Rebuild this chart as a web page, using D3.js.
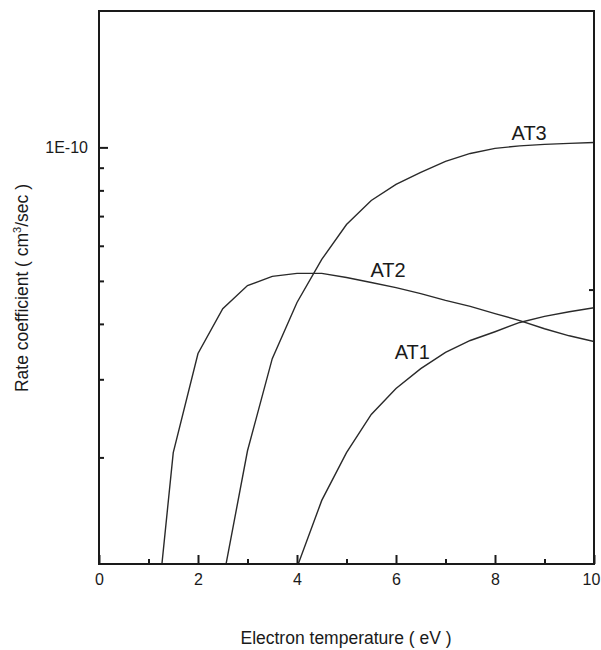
<!DOCTYPE html>
<html lang="en">
<head>
    <meta charset="UTF-8">
    <title>Rate coefficient vs electron temperature</title>
    <style>
        body {
            margin: 0;
            background: #fff;
        }
        svg text {
            font-family: "Liberation Sans", Arial, sans-serif;
            fill: #1a1a1a;
        }
    </style>
</head>
<body>
    <div id="chart"></div>
    <script src="https://d3js.org/d3.v7.min.js"></script>
    <script>
        // Temperatures (eV) and rate coefficients (cm^3/sec)
        const tempAT2 = [1.0, 1.5, 2.0, 2.5, 3.0, 3.5, 4.0, 4.5, 5.0, 5.5, 6.0, 6.5, 7.0, 7.5, 8.0, 8.5, 9.0, 9.5, 10.0];
        const rateAT2 = [0.58e-11, 2.05e-11, 3.43e-11, 4.33e-11, 4.88e-11, 5.12e-11, 5.20e-11, 5.20e-11, 5.09e-11, 4.96e-11,
                         4.83e-11, 4.68e-11, 4.52e-11, 4.38e-11, 4.22e-11, 4.07e-11, 3.90e-11, 3.76e-11, 3.65e-11];

        const tempAT3 = [2.5, 3.0, 3.5, 4.0, 4.5, 5.0, 5.5, 6.0, 6.5, 7.0, 7.5, 8.0, 8.5, 9.0, 9.5, 10.0];
        const rateAT3 = [1.05e-11, 2.07e-11, 3.34e-11, 4.47e-11, 5.59e-11, 6.70e-11, 7.59e-11, 8.25e-11,
                         8.78e-11, 9.30e-11, 9.69e-11, 9.95e-11, 10.08e-11, 10.16e-11, 10.21e-11, 10.26e-11];

        const tempAT1 = [4.0, 4.5, 5.0, 5.5, 6.0, 6.5, 7.0, 7.5, 8.0, 8.5, 9.0, 9.5, 10.0];
        const rateAT1 = [1.13e-11, 1.60e-11, 2.05e-11, 2.50e-11, 2.86e-11, 3.17e-11, 3.45e-11,
                         3.67e-11, 3.84e-11, 4.03e-11, 4.16e-11, 4.26e-11, 4.35e-11];

        // Curve labels: name, anchor temperature, anchor rate
        const labelNames = ["AT3", "AT2", "AT1"];
        const labelTemps = [8.69, 5.84, 6.33];
        const labelRates = [10.37e-11, 5.09e-11, 3.34e-11];

        // Axis ticks
        const xMajorTicks = [0, 2, 4, 6, 8, 10];
        const xMinorTicks = [1, 3, 5, 7, 9];
        const yMajorTicks = [1e-10];
        const yMinorTicks = [2e-11, 3e-11, 4e-11, 5e-11, 6e-11, 7e-11, 8e-11, 9e-11];
        const yRightTicks = [4.78e-11];

        const W = 601, H = 650;
        const plotLeft = 99, plotRight = 594, plotTop = 11, plotBottom = 564;

        const svg = d3.select("#chart")
            .append("svg")
            .attr("width", W)
            .attr("height", H);

        const x = d3.scaleLinear()
            .domain([0, 10])
            .range([plotLeft, plotRight]);

        const y = d3.scaleLog()
            .domain([1.15e-11, 2.03e-10])
            .range([plotBottom, plotTop]);

        svg.append("clipPath")
            .attr("id", "plot-clip")
            .append("rect")
            .attr("x", plotLeft)
            .attr("y", plotTop)
            .attr("width", plotRight - plotLeft)
            .attr("height", plotBottom - plotTop);

        // Curves
        const line = d3.line()
            .x(d => x(d[0]))
            .y(d => y(d[1]));

        const series = [
            d3.zip(tempAT2, rateAT2),
            d3.zip(tempAT3, rateAT3),
            d3.zip(tempAT1, rateAT1)
        ];

        svg.append("g")
            .attr("clip-path", "url(#plot-clip)")
            .selectAll("path")
            .data(series)
            .enter()
            .append("path")
            .attr("d", line)
            .attr("fill", "none")
            .attr("stroke", "#2a2a2a")
            .attr("stroke-width", 1.4);

        // Bottom axis (ticks pointing inward)
        const xAxisMajor = svg.append("g")
            .attr("transform", `translate(0,${plotBottom})`)
            .call(d3.axisBottom(x).tickValues(xMajorTicks).tickSizeInner(-9).tickSizeOuter(0).tickPadding(10));
        xAxisMajor.select(".domain").remove();
        xAxisMajor.selectAll("text")
            .attr("font-size", 16)
            .style("font-family", "'Liberation Sans', Arial, sans-serif")
            .attr("fill", "#1a1a1a");
        // the last label sits on the page edge, nudge it in so it stays whole
        xAxisMajor.selectAll("text")
            .filter(d => d === 10)
            .attr("x", -3);

        svg.append("g")
            .attr("transform", `translate(0,${plotBottom})`)
            .call(d3.axisBottom(x).tickValues(xMinorTicks).tickSizeInner(-5).tickSizeOuter(0).tickFormat(""))
            .select(".domain").remove();

        // Left axis
        const yAxisMajor = svg.append("g")
            .attr("transform", `translate(${plotLeft},0)`)
            .call(d3.axisLeft(y).tickValues(yMajorTicks).tickSizeInner(-9).tickSizeOuter(0).tickPadding(11)
                .tickFormat(() => "1E-10"));
        yAxisMajor.select(".domain").remove();
        yAxisMajor.selectAll("text")
            .attr("font-size", 16)
            .style("font-family", "'Liberation Sans', Arial, sans-serif")
            .attr("fill", "#1a1a1a");

        svg.append("g")
            .attr("transform", `translate(${plotLeft},0)`)
            .call(d3.axisLeft(y).tickValues(yMinorTicks).tickSizeInner(-5).tickSizeOuter(0).tickFormat(""))
            .select(".domain").remove();

        // Right axis tick
        svg.append("g")
            .attr("transform", `translate(${plotRight},0)`)
            .call(d3.axisRight(y).tickValues(yRightTicks).tickSizeInner(-5).tickSizeOuter(0).tickFormat(""))
            .select(".domain").remove();

        svg.selectAll(".tick line")
            .attr("stroke", "#1a1a1a")
            .attr("stroke-width", 2);

        // Frame
        svg.append("rect")
            .attr("x", plotLeft)
            .attr("y", plotTop)
            .attr("width", plotRight - plotLeft)
            .attr("height", plotBottom - plotTop)
            .attr("fill", "none")
            .attr("stroke", "#1a1a1a")
            .attr("stroke-width", 2);

        // Curve labels
        svg.append("g")
            .selectAll("text")
            .data(labelNames)
            .enter()
            .append("text")
            .attr("x", (d, i) => x(labelTemps[i]))
            .attr("y", (d, i) => y(labelRates[i]))
            .attr("text-anchor", "middle")
            .attr("font-size", 20)
            .text(d => d);

        // Axis titles
        svg.append("text")
            .attr("x", 346)
            .attr("y", 644)
            .attr("text-anchor", "middle")
            .attr("font-size", 17.5)
            .text("Electron temperature ( eV )");

        const yTitle = svg.append("text")
            .attr("transform", "translate(28,288) rotate(-90)")
            .attr("text-anchor", "middle")
            .attr("font-size", 17.5);
        yTitle.append("tspan").text("Rate coefficient ( cm");
        yTitle.append("tspan").attr("font-size", 11).attr("dy", -7).text("3");
        yTitle.append("tspan").attr("dy", 7).text("/sec )");
    </script>
</body>
</html>
